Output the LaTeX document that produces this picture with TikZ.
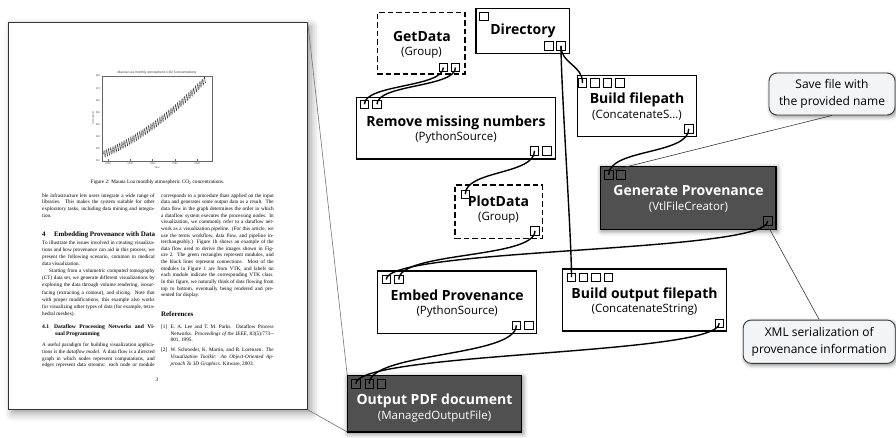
\documentclass[tikz,border=0pt]{standalone}
\usepackage{fontspec}
\setmainfont{Open Sans}
\newfontfamily\pagefont{Liberation Serif}
\newfontfamily\plotfont{Liberation Sans}
\usetikzlibrary{calc,shadows.blur}

\definecolor{darkmod}{RGB}{80,80,80}
\definecolor{callfill}{RGB}{243,244,246}
\definecolor{callborder}{RGB}{55,55,55}

\tikzset{
 modbox/.style={draw=black,line width=1.3pt,fill=white,inner sep=0pt},
 groupbox/.style={modbox,dash pattern=on 5.5pt off 3pt},
 darkbox/.style={modbox,fill=darkmod,blur shadow={shadow xshift=1pt,shadow yshift=-1.5pt,shadow blur radius=5pt,shadow opacity=55}},
 port/.style={draw=black,line width=0.8pt,fill=white,minimum size=8.5pt,inner sep=0pt},
 dport/.style={port,fill=darkmod},
 wire/.style={draw=black,line width=1.4pt},
 modtitle/.style={font=\fontsize{14}{16}\selectfont\bfseries,inner sep=0pt,text height=10.5pt,text depth=1.5pt},
 modsub/.style={font=\fontsize{11.5}{13}\selectfont,inner sep=0pt,text height=8.5pt,text depth=1.5pt},
 callout/.style={draw=callborder,line width=0.9pt,fill=callfill,rounded corners=8pt,align=center,inner sep=0pt,
   font=\fontsize{12}{16.5}\selectfont,blur shadow={shadow xshift=1.5pt,shadow yshift=-2pt,shadow blur radius=4pt,shadow opacity=45}},
 calloutline/.style={draw=callborder,line width=0.6pt},
 zoomline/.style={draw=black!55,line width=0.6pt},
 pagebox/.style={draw=black!80,line width=0.8pt,fill=white,inner sep=0pt,
   blur shadow={shadow xshift=4pt,shadow yshift=-4pt,shadow blur radius=8pt,shadow opacity=40}},
 pgtxt/.style={anchor=base west,inner sep=0pt,font=\pagefont\fontsize{5.2}{6}\selectfont},
 pghead/.style={anchor=base west,inner sep=0pt,font=\pagefont\fontsize{6.9}{8}\selectfont\bfseries},
 pgsub/.style={anchor=base west,inner sep=0pt,font=\pagefont\fontsize{5.6}{6.5}\selectfont\bfseries},
 plotlbl/.style={inner sep=0pt,font=\plotfont\fontsize{2.6}{3}\selectfont,text=black!70},
 plottitle/.style={inner sep=0pt,font=\plotfont\fontsize{3.3}{4}\selectfont,text=black!75},
}

\newcommand\modrect[6]{\node[#1,minimum width={#5-#3},minimum height={#6-#4}] (#2) at ({(#3+#5)/2},{(#4+#6)/2}) {};}
\newcommand\prt[4]{\node[#1] (#2) at (#3,#4) {};}
\newcommand\PJ[4][112.5pt]{\node[pgtxt] at (#2,#3) {\makebox[#1][s]{#4}};}
\newcommand\PR[3]{\node[pgtxt] at (#1,#2) {#3};}

\begin{document}
\begin{tikzpicture}[x=1pt,y=-1pt]
\useasboundingbox (0,0) rectangle (896,438);

% ---------------- page ----------------
\modrect{pagebox}{page}{8.3}{22.3}{307.3}{409.3}

% plot
\draw[black!60,line width=0.3pt] (101.7,76) rectangle (211.7,161);
\foreach \v [count=\i from 0] in {310,320,...,380}{
  \node[plotlbl,anchor=east] at (100.3,{161-\i*12.143}) {\v};
  \draw[black!60,line width=0.25pt] (101.7,{161-\i*12.143}) -- ++(1.5,0);}
\foreach \t [count=\i from 0] in {1960,1970,...,2000}{
  \node[plotlbl,anchor=north] at ({108+\i*22.3},162.2) {\t};
  \draw[black!60,line width=0.25pt] ({108+\i*22.3},161) -- ++(0,-1.5);}
\node[plotlbl] at (157,167.6) {Year};
\node[plotlbl,rotate=90] at (93.3,118) {CO2 (ppm)};
\node[plottitle] at (157,72.8) {Mauna Loa monthly atmospheric CO2 Concentrations};
\draw[black!75,line width=0.35pt] plot[domain=0:550,samples=551]
  ({103.5+\x*0.18583},{161-(5.5+0.065*\x+0.0125*(\x/12)^2+3*sin(30*mod(\x,12)))*1.2143});

\node[pgtxt,anchor=base] at (157.5,183.2) {Figure 2: Mauna Loa monthly atmospheric CO\textsubscript{2} concentrations.};

% left column
\PJ{42}{197.2}{ble infrastructure lets users integrate a wide range of}
\PJ{42}{203.9}{libraries. This makes the system suitable for other}
\PJ{42}{210.5}{exploratory tasks, including data mining and integra-}
\PR{42}{217.2}{tion.}
\node[pghead] at (42,236.5) {4\hspace{8.5pt}Embedding Provenance with Data};
\PJ{42}{244.5}{To illustrate the issues involved in creating visualiza-}
\PJ{42}{251.6}{tions and how provenance can aid in this process, we}
\PJ{42}{258.6}{present the following scenario, common in medical}
\PR{42}{265.7}{data visualization.}
\PJ{42}{272.8}{\hspace*{7pt}Starting from a volumetric computed tomography}
\PJ{42}{279.9}{(CT) data set, we generate different visualizations by}
\PJ{42}{286.9}{exploring the data through volume rendering, isosur-}
\PJ{42}{294.0}{facing (extracting a contour), and slicing. Note that}
\PJ{42}{301.1}{with proper modifications, this example also works}
\PJ{42}{308.1}{for visualizing other types of data (for example, tetra-}
\PR{42}{315.2}{hedral meshes).}
\node[pgsub] at (42,328.8) {\makebox[112.5pt][s]{4.1\hspace{5pt}Dataflow Processing Networks and Vi-}};
\node[pgsub] at (55,335.8) {sual Programming};
\PJ{42}{346.9}{A useful paradigm for building visualization applica-}
\PJ{42}{353.5}{tions is the \textit{dataflow model}. A data flow is a directed}
\PJ{42}{360.2}{graph in which nodes represent computations, and}
\PJ{42}{366.9}{edges represent data streams: each node or module}

% right column
\PJ{161}{197.2}{corresponds to a procedure thats applied on the input}
\PJ{161}{203.8}{data and generates some output data as a result. The}
\PJ{161}{210.5}{data flow in the graph determines the order in which}
\PJ{161}{217.1}{a dataflow system executes the processing nodes. In}
\PJ{161}{223.8}{visualization, we commonly refer to a dataflow net-}
\PJ{161}{230.4}{work as a visualization pipeline. (For this article, we}
\PJ{161}{237.0}{use the terms workflow, data flow, and pipeline in-}
\PJ{161}{243.7}{terchangeably.) Figure 1b shows an example of the}
\PJ{161}{250.3}{data flow used to derive the images shown in Fig-}
\PJ{161}{257.0}{ure 2. The green rectangles represent modules, and}
\PJ{161}{263.6}{the black lines represent connections. Most of the}
\PJ{161}{270.2}{modules in Figure 1 are from VTK, and labels on}
\PJ{161}{276.9}{each module indicate the corresponding VTK class.}
\PJ{161}{283.5}{In this figure, we naturally think of data flowing from}
\PJ{161}{290.2}{top to bottom, eventually being rendered and pre-}
\PR{161}{296.8}{sented for display.}
\node[pghead] at (161,316.6) {References};
\PR{161}{328.5}{[1]}
\PJ[103pt]{170.5}{328.5}{E. A. Lee and T. M. Parks. Dataflow Process}
\PJ[103pt]{170.5}{335.1}{Networks. \textit{Proceedings of the IEEE}, 83(5):773--}
\PR{170.5}{341.7}{801, 1995.}
\PR{161}{351.9}{[2]}
\PJ[103pt]{170.5}{351.9}{W. Schroeder, K. Martin, and B. Lorensen. \textit{The}}
\PJ[103pt]{170.5}{358.5}{\textit{Visualization Toolkit: An Object-Oriented Ap-}}
\PR{170.5}{365.1}{\textit{proach To 3D Graphics}. Kitware, 2003.}
\node[pgtxt,anchor=base] at (157,381.5) {3};

% ---------------- modules ----------------
\modrect{groupbox}{gd}{377.3}{12.7}{465}{74}
\modrect{modbox}{dir}{476}{8.3}{569.3}{53.3}
\modrect{modbox}{rm}{356.7}{97.3}{555.7}{159}
\modrect{modbox}{bf}{577.3}{75.3}{696.7}{136.7}
\modrect{darkbox}{gp}{600.7}{166.7}{776}{229.3}
\modrect{groupbox}{pd}{455}{185}{542.3}{238.3}
\modrect{modbox}{ep}{377.7}{271}{536.7}{333.3}
\modrect{modbox}{bo}{562.3}{269}{726.7}{331}

% zoom lines from page to output document
\draw[zoomline] (page.north east) -- (347.3,375.7) coordinate (opnw);
\draw[zoomline] (page.south east) -- (347.3,432) coordinate (opsw);
\modrect{darkbox}{op}{347.3}{375.7}{521.7}{432}

% ports
\prt{port}{gd-o1}{443.3}{67.5}
\prt{port}{gd-o2}{455.5}{67.5}
\prt{port}{dir-i1}{484}{16.3}
\prt{port}{dir-o1}{549}{46}
\prt{port}{dir-o2}{561}{46}
\prt{port}{rm-i1}{364.5}{104.2}
\prt{port}{rm-i2}{377}{104.2}
\prt{port}{rm-o1}{534.5}{150.8}
\prt{port}{rm-o2}{547}{150.8}
\prt{port}{bf-i1}{582.5}{82.8}
\prt{port}{bf-i2}{595}{82.8}
\prt{port}{bf-i3}{607.5}{82.8}
\prt{port}{bf-i4}{620}{82.8}
\prt{port}{bf-o1}{688.8}{128.8}
\prt{dport}{gp-i1}{608.7}{174.7}
\prt{dport}{gp-i2}{620.8}{174.7}
\prt{dport}{gp-o1}{767.7}{221}
\prt{port}{pd-i1}{465.3}{194.2}
\prt{port}{pd-o1}{535}{230.8}
\prt{port}{ep-i1}{386.2}{279.5}
\prt{port}{ep-i2}{398.8}{279.5}
\prt{port}{ep-o1}{516.3}{325.3}
\prt{port}{ep-o2}{528.8}{325.3}
\prt{port}{bo-i1}{571.5}{277.2}
\prt{port}{bo-i2}{583.5}{277.2}
\prt{port}{bo-i3}{595.8}{277.2}
\prt{port}{bo-i4}{608.3}{277.2}
\prt{port}{bo-o1}{719.2}{323.3}
\prt{dport}{op-i1}{355.8}{383.8}
\prt{dport}{op-i2}{369.2}{383.8}
\prt{dport}{op-i3}{381.5}{383.8}

% wires
\draw[wire] (gd-o1.center) .. controls +(0,20) and +(0,-20) .. (rm-i1.center);
\draw[wire] (gd-o2.center) .. controls +(0,20) and +(0,-20) .. (rm-i2.center);
\draw[wire] (dir-o2.center) .. controls +(0,18) and +(0,-18) .. (bf-i1.center);
\draw[wire] (dir-o2.center) .. controls +(0,40) and +(0,-40) .. (bo-i1.center);
\draw[wire] (rm-o1.center) .. controls +(0,24) and +(0,-24) .. (pd-i1.center);
\draw[wire] (bf-o1.center) .. controls +(0,26) and +(0,-26) .. (gp-i1.center);
\draw[wire] (gp-o1.center) .. controls +(0,32) and +(0,-32) .. (ep-i1.center);
\draw[wire] (pd-o1.center) .. controls +(0,28) and +(0,-28) .. (ep-i2.center);
\draw[wire] (ep-o1.center) .. controls +(0,32) and +(0,-32) .. (op-i2.center);
\draw[wire] (bo-o1.center) .. controls +(0,32) and +(0,-32) .. (op-i1.center);

% titles
\node[modtitle] (gd-t) at (422,37) {GetData};
\node[modsub] (gd-s) at (421.5,52) {(Group)};
\node[modtitle] (dir-t) at (523,30) {Directory};
\node[modtitle] (rm-t) at (456,122.3) {Remove missing numbers};
\node[modsub] (rm-s) at (456,137.3) {(PythonSource)};
\node[modtitle] (bf-t) at (637,99.5) {Build filepath};
\node[modsub] (bf-s) at (637,115.5) {(ConcatenateS…)};
\node[modtitle,text=white] (gp-t) at (688.5,191) {Generate Provenance};
\node[modsub,text=white] (gp-s) at (688.5,206.7) {(VtlFileCreator)};
\node[modtitle] (pd-t) at (498.5,202.5) {PlotData};
\node[modsub] (pd-s) at (498.5,216.7) {(Group)};
\node[modtitle] (ep-t) at (457.2,296) {Embed Provenance};
\node[modsub] (ep-s) at (457.2,311) {(PythonSource)};
\node[modtitle] (bo-t) at (644.5,294) {Build output filepath};
\node[modsub] (bo-s) at (644.5,309.3) {(ConcatenateString)};
\node[modtitle,text=white] (op-t) at (434.5,400) {Output PDF document};
\node[modsub,text=white] (op-s) at (434.5,416) {(ManagedOutputFile)};

% callouts
\node[callout,minimum width=126pt,minimum height=42pt] (c1) at (832,94) {Save file with\\the provided name};
\node[callout,minimum width=152pt,minimum height=43.3pt] (c2) at (819.2,341.7) {XML serialization of\\provenance information};
\draw[calloutline] (c1.south) -- (gp-i1.north east);
\draw[calloutline] (c2.north) -- (gp-o1.south);
\end{tikzpicture}
\end{document}
